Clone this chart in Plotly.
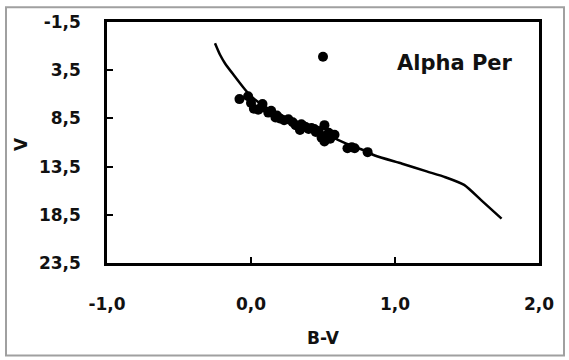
import plotly.graph_objects as go

# Isochrone / ZAMS line (B-V, V)
line_bv = [-0.25, -0.215, -0.18, -0.12, -0.05, 0.00, 0.10, 0.20, 0.30, 0.40, 0.50, 0.60, 0.70, 0.80, 0.86, 1.05, 1.22, 1.35, 1.48, 1.60, 1.74]
line_v = [0.7, 1.9, 2.8, 4.0, 5.35, 6.2, 7.3, 8.1, 8.8, 9.4, 10.0, 10.7, 11.35, 11.9, 12.35, 13.2, 14.0, 14.6, 15.4, 17.0, 18.9]

# Alpha Per member stars
star_bv = [-0.08, -0.02, 0.00, 0.02, 0.05, 0.07, 0.08, 0.12, 0.14, 0.17, 0.18, 0.20, 0.23, 0.26, 0.29, 0.31,
           0.35, 0.36, 0.34, 0.38, 0.40, 0.42, 0.44, 0.45, 0.47, 0.49, 0.51, 0.52, 0.51, 0.54, 0.55, 0.58,
           0.67, 0.70, 0.72, 0.81, 0.50]
star_v = [6.5, 6.2, 6.9, 7.5, 7.6, 7.4, 7.0, 7.9, 7.7, 8.4, 8.2, 8.5, 8.7, 8.6, 8.9, 9.2,
          9.1, 9.25, 9.7, 9.4, 9.6, 9.5, 9.6, 9.9, 9.8, 10.5, 9.2, 10.3, 10.9, 10.0, 10.6, 10.2,
          11.6, 11.5, 11.6, 12.0, 2.1]

x_ticks = [-1.0, 0.0, 1.0, 2.0]
x_tick_labels = ["-1,0", "0,0", "1,0", "2,0"]
y_ticks = [-1.5, 3.5, 8.5, 13.5, 18.5, 23.5]
y_tick_labels = ["-1,5", "3,5", "8,5", "13,5", "18,5", "23,5"]

FONT = "DejaVu Sans"
L, R, T, B = 107, 539, 18, 263
W, H = 569, 360

def px(x):
    return (x - L) / (R - L)

def py(y):
    return (B - y) / (B - T)

fig = go.Figure()
fig.add_trace(go.Scatter(x=line_bv, y=line_v, mode="lines",
                         line=dict(color="black", width=2.5, shape="spline", smoothing=0.6),
                         showlegend=False))
fig.add_trace(go.Scatter(x=star_bv, y=star_v, mode="markers",
                         marker=dict(color="black", size=10), showlegend=False))

fig.update_layout(
    width=W, height=H,
    margin=dict(l=L, r=W - R, t=T, b=H - B),
    paper_bgcolor="white", plot_bgcolor="white",
    font=dict(family=FONT, size=17, color="#111"),
    showlegend=False,
)
fig.update_xaxes(range=[-1.0, 2.0], tickvals=x_ticks, ticktext=x_tick_labels,
                 showgrid=False, zeroline=False, showline=True, mirror=True,
                 linecolor="black", linewidth=2.5, ticks="inside", ticklen=6,
                 tickwidth=2, tickcolor="black", ticklabelstandoff=24,
                 tickfont=dict(family=FONT, size=17, color="#111", weight="bold"))
fig.update_yaxes(range=[23.5, -1.5], tickvals=y_ticks, ticktext=y_tick_labels,
                 showgrid=False, zeroline=False, showline=True, mirror=True,
                 linecolor="black", linewidth=2.5, ticks="inside", ticklen=6,
                 tickwidth=2, tickcolor="black", ticklabelstandoff=20,
                 tickfont=dict(family=FONT, size=17, color="#111", weight="bold"))

fig.add_annotation(text="<b>V</b>", xref="paper", yref="paper",
                   x=px(21), y=py(142), xanchor="center", yanchor="middle",
                   showarrow=False, textangle=-90,
                   font=dict(family=FONT, size=17, color="#111"))
fig.add_annotation(text="<b>B-V</b>", xref="paper", yref="paper",
                   x=px(323), y=py(339), xanchor="center", yanchor="middle",
                   showarrow=False,
                   font=dict(family=FONT, size=17, color="#111"))
fig.add_annotation(text="<b>Alpha Per</b>", xref="paper", yref="paper",
                   x=px(455), y=py(60), xanchor="center", yanchor="middle",
                   showarrow=False,
                   font=dict(family=FONT, size=21, color="#111"))

fig.add_shape(type="rect", xref="paper", yref="paper",
              x0=px(6), x1=px(564), y0=py(357), y1=py(3),
              line=dict(color="#a0a0a0", width=2), layer="below")

fig.write_html("out.html")
